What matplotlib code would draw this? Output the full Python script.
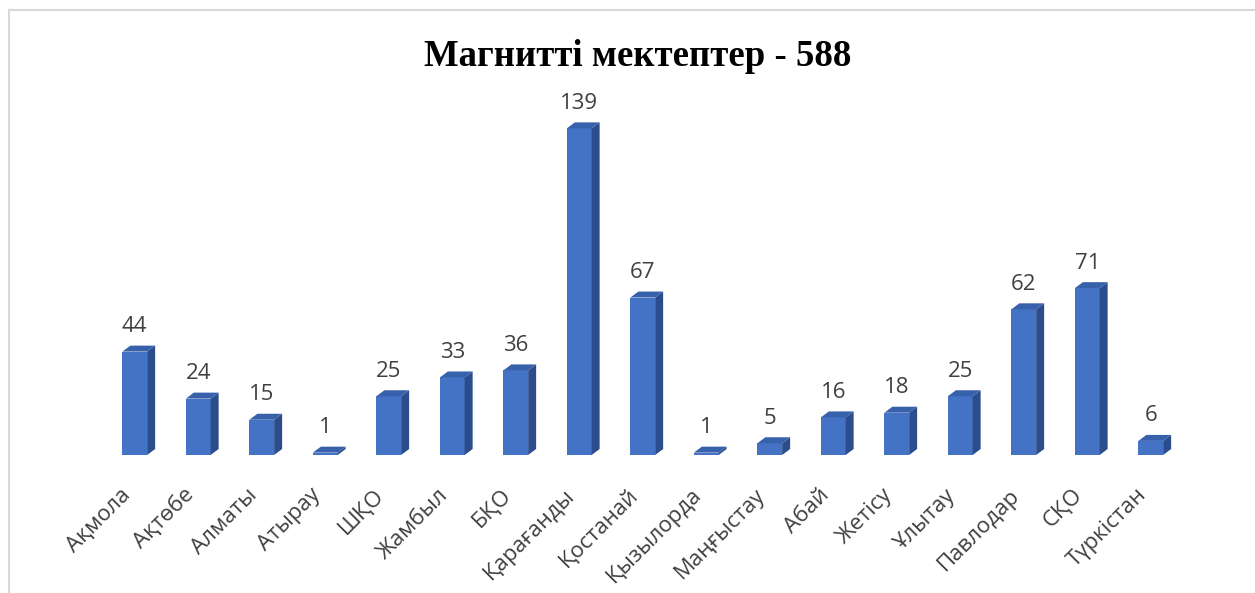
import matplotlib
matplotlib.use("Agg")
import matplotlib.pyplot as plt
from matplotlib.patches import Polygon
from matplotlib.lines import Line2D

categories = ["Ақмола", "Ақтөбе", "Алматы", "Атырау", "ШҚО", "Жамбыл", "БҚО",
              "Қарағанды", "Қостанай", "Қызылорда", "Маңғыстау", "Абай", "Жетісу",
              "Ұлытау", "Павлодар", "СҚО", "Түркістан"]
values = [44, 24, 15, 1, 25, 33, 36, 139, 67, 1, 5, 16, 18, 25, 62, 71, 6]
title = "Магнитті мектептер - 588"

plt.rcParams['font.family'] = ['Open Sans', 'DejaVu Sans']

W, H = 1255, 593
fig = plt.figure(figsize=(W / 100, H / 100), dpi=100)
ax = fig.add_axes([103 / W, 138 / H, 1079.5 / W, 352.5 / H])
ax.set_xlim(-0.5, len(categories) - 0.5)
ax.set_ylim(0, 150)

front_c = "#4472C4"
side_c = "#2C4D8B"
top_c = "#3861AC"
text_c = "#404040"

w = 0.39
dx = 0.126
dy = 2.55
xs = list(range(len(categories)))
ax.bar(xs, values, width=w, color=front_c, zorder=2)
for x, v in zip(xs, values):
    r = x + w / 2
    l = x - w / 2
    ax.add_patch(Polygon([(r, 0), (r + dx, dy), (r + dx, v + dy), (r, v)],
                         closed=True, facecolor=side_c, edgecolor='none', zorder=2))
    ax.add_patch(Polygon([(l, v), (r, v), (r + dx, v + dy), (l + dx, v + dy)],
                         closed=True, facecolor=top_c, edgecolor='none', zorder=2))
    ax.annotate(str(v), (x, v), xytext=(0, 14), textcoords='offset points',
                ha='center', va='baseline', fontsize=16, color=text_c)

ax.set_xticks(xs)
ax.set_xticklabels(categories, rotation=45, ha='right', va='bottom',
                   rotation_mode='anchor', fontsize=16, color=text_c)
ax.tick_params(axis='x', length=0, pad=32)
ax.set_yticks([])
for s in ax.spines.values():
    s.set_visible(False)
ax.patch.set_alpha(0)

fig.text(638 / W, 1 - 57 / H, title, ha='center', va='center',
         fontfamily='Liberation Serif', fontweight='bold', fontsize=26.5, color='black')

fig.add_artist(Line2D([8.5 / W, 8.5 / W], [0, 1 - 10 / H], color='#d9d9d9', lw=1.5))
fig.add_artist(Line2D([8.5 / W, 1], [1 - 10 / H, 1 - 10 / H], color='#d9d9d9', lw=1.5))

fig.savefig("out.png", dpi=100)
